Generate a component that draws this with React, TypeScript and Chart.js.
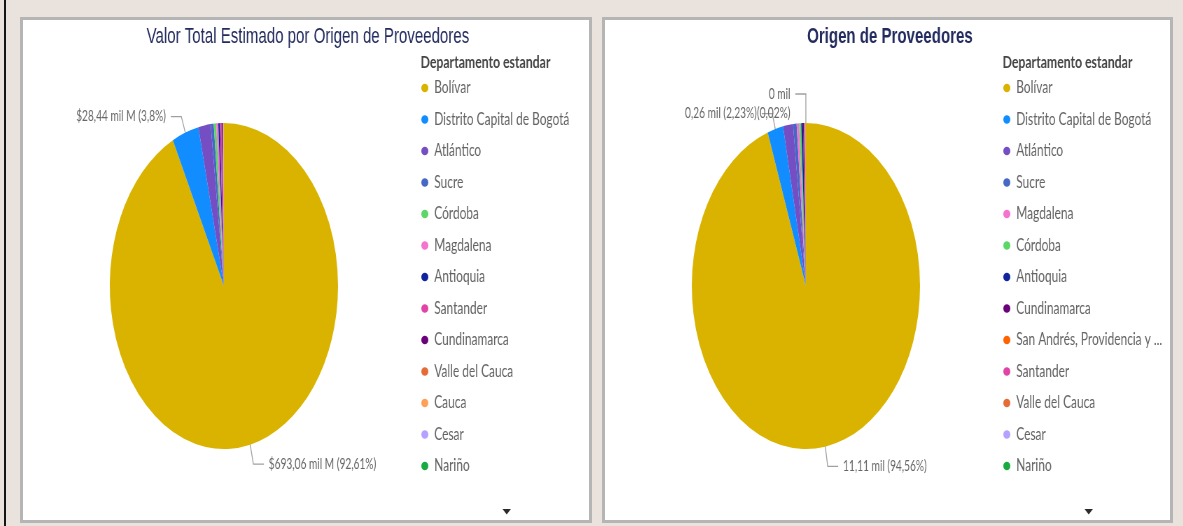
import React, { useEffect, useRef } from 'react';
import { Chart, registerables } from 'chart.js';

Chart.register(...registerables);

// ---------- DATA ----------
const leftTitle = 'Valor Total Estimado por Origen de Proveedores';
const leftCategories = [
  'Bolívar', 'Distrito Capital de Bogotá', 'Atlántico', 'Sucre', 'Córdoba', 'Magdalena',
  'Antioquia', 'Santander', 'Cundinamarca', 'Valle del Cauca', 'Cauca', 'Cesar', 'Nariño',
];
// Valor total estimado (mil M de pesos)
const leftValues = [693.06, 28.44, 13.0, 3.2, 2.6, 2.2, 1.8, 1.5, 1.1, 0.7, 0.4, 0.25, 0.11];

const rightTitle = 'Origen de Proveedores';
const rightCategories = [
  'Bolívar', 'Distrito Capital de Bogotá', 'Atlántico', 'Sucre', 'Magdalena', 'Córdoba',
  'Antioquia', 'Cundinamarca', 'San Andrés, Providencia y ...', 'Santander', 'Valle del Cauca',
  'Cesar', 'Nariño',
];
// Número de proveedores
const rightValues = [11110, 262, 165, 59, 41, 35, 29, 18, 12, 9, 5, 2, 2];

const legendTitle = 'Departamento estandar';

// ---------- STYLE ----------
const COLORS: Record<string, string> = {
  'Bolívar': '#D9B300',
  'Distrito Capital de Bogotá': '#118DFF',
  'Atlántico': '#744EC2',
  'Sucre': '#4668C5',
  'Córdoba': '#5BD667',
  'Magdalena': '#F472D0',
  'Antioquia': '#12239E',
  'Santander': '#E044A7',
  'Cundinamarca': '#6B007B',
  'Valle del Cauca': '#E66C37',
  'Cauca': '#FFA058',
  'Cesar': '#B5A1FF',
  'Nariño': '#1AAB40',
  'San Andrés, Providencia y ...': '#FF6300',
};

const SX = 0.7; // horizontal squash of the reference
const CW = 809;
const CH = 500;
const LEGEND_LEFT = 568;
const LABEL_FONT = "Lato, 'Segoe UI', sans-serif";
const TITLE_FONT = "'Liberation Sans', Arial, sans-serif";

const fmt = (n: number) => (Math.round(n * 100) / 100).toString().replace('.', ',');

type LabelCfg = { index: number; len: number; twoLines?: boolean };

function makeOverlay(cfg: {
  title: string;
  bold: boolean;
  labels: LabelCfg[];
  format: (v: number, pct: number, two: boolean) => string[];
}) {
  return {
    id: 'overlay',
    afterDraw(chart: any) {
      const ctx = chart.ctx as CanvasRenderingContext2D;
      const meta = chart.getDatasetMeta(0);
      const data = chart.data.datasets[0].data as number[];
      const total = data.reduce((a, b) => a + b, 0);
      ctx.save();
      // chart title
      ctx.font = `${cfg.bold ? 'bold ' : ''}21.5px ${TITLE_FONT}`;
      ctx.fillStyle = '#232b5e';
      ctx.textAlign = 'center';
      ctx.textBaseline = 'middle';
      ctx.fillText(cfg.title, 407, 17);

      // data labels with leader lines
      ctx.font = `14.5px ${LABEL_FONT}`;
      for (const lab of cfg.labels) {
        const arc = meta.data[lab.index];
        const p = arc.getProps(['x', 'y', 'startAngle', 'endAngle', 'outerRadius'], true);
        const mid = (p.startAngle + p.endAngle) / 2;
        const c = Math.cos(mid);
        const s = Math.sin(mid);
        const x0 = p.x + c * p.outerRadius;
        const y0 = p.y + s * p.outerRadius;
        const x1 = x0 + c * lab.len;
        const y1 = y0 + s * lab.len;
        const dir = c >= 0 ? 1 : -1;
        const x2 = x1 + dir * 15;
        ctx.strokeStyle = '#a0a0a0';
        ctx.lineWidth = 1.3;
        ctx.beginPath();
        ctx.moveTo(x0, y0);
        ctx.lineTo(x1, y1);
        ctx.lineTo(x2, y1);
        ctx.stroke();
        const v = data[lab.index];
        const lines = cfg.format(v, (v / total) * 100, !!lab.twoLines);
        ctx.fillStyle = '#666666';
        ctx.textAlign = dir > 0 ? 'left' : 'right';
        ctx.textBaseline = 'middle';
        lines.forEach((t, k) => ctx.fillText(t, x2 + dir * 7, y1 + k * 19));
      }

      // scroll chevron
      ctx.fillStyle = '#2b2b2b';
      ctx.beginPath();
      ctx.moveTo(685, 489);
      ctx.lineTo(697, 489);
      ctx.lineTo(691, 494.5);
      ctx.closePath();
      ctx.fill();
      ctx.restore();
    },
  };
}

function PiePanel(props: {
  categories: string[];
  values: number[];
  title: string;
  bold: boolean;
  labels: LabelCfg[];
  format: (v: number, pct: number, two: boolean) => string[];
}) {
  const ref = useRef<HTMLCanvasElement>(null);
  useEffect(() => {
    const canvas = ref.current!;
    const { categories, values } = props;
    const chart = new Chart(canvas, {
      type: 'pie',
      data: {
        labels: categories,
        datasets: [
          {
            data: values,
            backgroundColor: categories.map((c) => COLORS[c]),
            borderWidth: 0,
            radius: 163,
          } as any,
        ],
      },
      options: {
        responsive: false,
        animation: false,
        devicePixelRatio: 1,
        layout: { padding: { left: 6, right: 0, top: 34, bottom: 2 } },
        plugins: {
          tooltip: { enabled: false },
          title: { display: false },
          legend: {
            position: 'right',
            align: 'start',
            title: {
              display: true,
              text: legendTitle,
              position: 'start',
              color: '#454545',
              font: { family: LABEL_FONT, size: 17.5, weight: 'bold' },
              padding: { top: 0, bottom: 3.5 },
            },
            labels: {
              usePointStyle: true,
              pointStyle: 'circle',
              pointStyleWidth: 10,
              boxHeight: 6,
              padding: 1,
              color: '#636363',
              font: { family: LABEL_FONT, size: 17, lineHeight: '30.5px' } as any,
              generateLabels: () =>
                categories.map((c, i) => ({
                  text: [c] as any,
                  fillStyle: COLORS[c],
                  strokeStyle: COLORS[c],
                  lineWidth: 0,
                  hidden: false,
                  index: i,
                  pointStyle: 'circle',
                  fontColor: '#636363',
                })),
            },
          } as any,
        },
      },
      plugins: [makeOverlay(props) as any],
    });
    const shift = (chart as any).legend.left - LEGEND_LEFT;
    chart.options.layout!.padding = { left: 6, right: Math.max(0, shift), top: 34, bottom: 2 } as any;
    chart.update();
    return () => chart.destroy();
  }, []);
  return (
    <canvas
      ref={ref}
      width={CW}
      height={CH}
      style={{
        width: CW,
        height: CH,
        display: 'block',
        transform: `scaleX(${SX})`,
        transformOrigin: '0 0',
      }}
    />
  );
}

const leftFormat = (v: number, pct: number) => [`$${fmt(v)} mil M (${fmt(pct)}%)`];
const rightFormat = (v: number, pct: number, two: boolean) =>
  two ? [`${fmt(v / 1000)} mil`, `(${fmt(pct)}%)`] : [`${fmt(v / 1000)} mil (${fmt(pct)}%)`];

const panelStyle = (left: number, width: number): React.CSSProperties => ({
  position: 'absolute',
  left,
  top: 17,
  width,
  height: 506,
  boxSizing: 'border-box',
  border: '3px solid #b5b5b5',
  background: '#ffffff',
  overflow: 'hidden',
});

export default function App() {
  return (
    <div
      style={{
        position: 'fixed',
        left: 0,
        top: 0,
        width: 1183,
        height: 526,
        background: '#e9e2dd',
        overflow: 'hidden',
      }}
    >
      <div style={{ position: 'absolute', left: 4, top: 0, width: 2, height: 526, background: '#151515' }} />
      <div style={panelStyle(20, 572)}>
        <PiePanel
          categories={leftCategories}
          values={leftValues}
          title={leftTitle}
          bold={false}
          labels={[
            { index: 0, len: 20 },
            { index: 1, len: 17 },
          ]}
          format={leftFormat}
        />
      </div>
      <div style={panelStyle(602, 571)}>
        <PiePanel
          categories={rightCategories}
          values={rightValues}
          title={rightTitle}
          bold={true}
          labels={[
            { index: 0, len: 20 },
            { index: 1, len: 16 },
            { index: 12, len: 29, twoLines: true },
          ]}
          format={rightFormat}
        />
      </div>
    </div>
  );
}
